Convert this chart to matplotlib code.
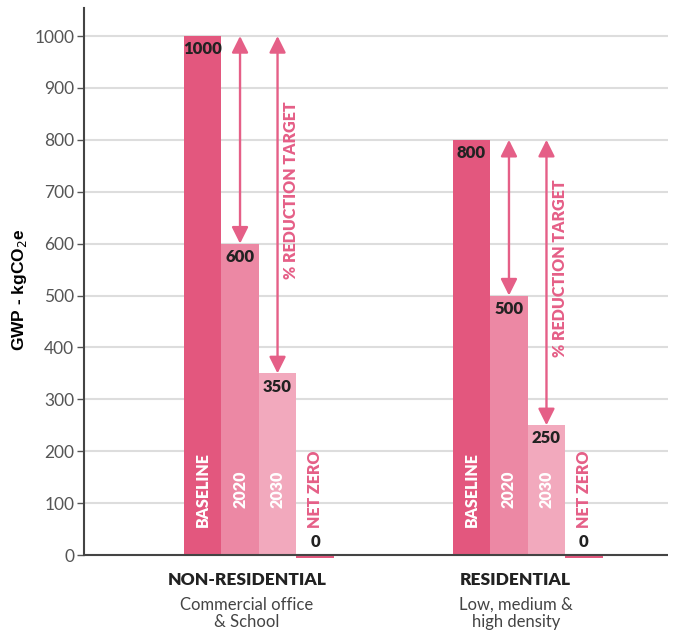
import numpy as np
import matplotlib
matplotlib.use("Agg")
from matplotlib import pyplot as plt

# data
groups = ["NON-RESIDENTIAL", "RESIDENTIAL"]
group_sub = ["Commercial office\n& School", "Low, medium &\nhigh density"]
bar_names = ["BASELINE", "2020", "2030", "NET ZERO"]
values = [[1000, 600, 350, 0],
          [800, 500, 250, 0]]
yticks = [0, 100, 200, 300, 400, 500, 600, 700, 800, 900, 1000]

colors = ["#E3577E", "#EC88A4", "#F2A9BD", "#E3577E"]
pink = "#E55F87"
plt.rcParams["font.family"] = ["Lato", "DejaVu Sans"]

fig = plt.figure(figsize=(6.74, 6.32), dpi=100)
ax = fig.add_axes([84 / 674, (632 - 560.2) / 632, 584 / 674, 552.2 / 632])

group_x = [3.16, 10.33]
w = 1.0

for gi, gx in enumerate(group_x):
    vals = values[gi]
    for bi, v in enumerate(vals):
        x = gx + bi * w
        if v > 0:
            ax.bar(x, v, width=w, color=colors[bi], zorder=2)
        else:
            # net zero drawn as thin strip under the axis
            ax.bar(x, -6, width=w, color=colors[bi], zorder=2, clip_on=False)
        # value labels
        if v > 0:
            ax.text(x, v - 10, str(v), ha="center", va="top", fontsize=12,
                    fontweight="heavy", color="#222222", zorder=4)
        else:
            ax.text(x, v + 10, str(v), ha="center", va="bottom", fontsize=12,
                    fontweight="heavy", color="#222222", zorder=4)
        # bar names
        tc = "white" if v > 0 else pink
        ax.text(x, 127, bar_names[bi], ha="center", va="center", rotation=90,
                fontsize=11.5, fontweight="heavy", color=tc, zorder=4)

    # reduction arrows
    top = vals[0]
    for bi in (1, 2):
        ax.annotate("", xy=(gx + bi * w, vals[bi]), xytext=(gx + bi * w, top),
                    arrowprops=dict(arrowstyle="<|-|>", color=pink, lw=1.7,
                                    mutation_scale=25, shrinkA=0, shrinkB=0),
                    zorder=3)
    ax.text(gx + 2.36 * w, (top + vals[2]) / 2 + 28, "% REDUCTION TARGET",
            rotation=90, ha="center", va="center", fontsize=11.5,
            fontweight="heavy", color=pink)

    # group labels
    lx = gx + 1.18 * w
    ax.text(lx, -48, groups[gi], ha="center", va="center", fontsize=12.5,
            fontweight="heavy", color="#222222", clip_on=False)
    ax.text(lx, -80, group_sub[gi], ha="center", va="top", fontsize=12,
            color="#444444", linespacing=1.15, clip_on=False)

ax.set_xlim(0, 15.57)
ax.set_ylim(-10, 1054)
ax.set_yticks(yticks)
ax.set_yticklabels([str(t) for t in yticks], fontsize=12.5, color="#555555")
ax.set_xticks([])
ax.tick_params(axis="y", length=5, color="#555555", width=1, pad=2)
ax.yaxis.grid(True, color="#DDDDDD", lw=1.5, zorder=0)
ax.set_axisbelow(True)
for s in ["top", "right", "bottom"]:
    ax.spines[s].set_visible(False)
ax.spines["left"].set_bounds(0, 1054)
ax.spines["left"].set_color("#444444")
ax.spines["left"].set_linewidth(1.5)
ax.axhline(0, color="#444444", lw=1.5, zorder=3)

ax.set_ylabel("GWP - kgCO$_2$e", fontsize=12.5, fontweight="bold",
              family=["Liberation Sans"])
ax.yaxis.set_label_coords(-0.094, 0.49)

fig.savefig("out.png", dpi=100)
